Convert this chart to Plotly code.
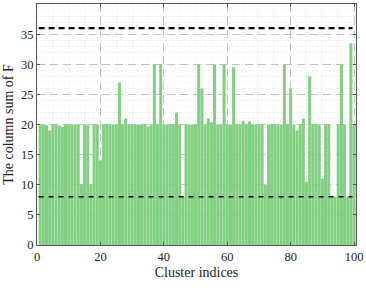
import plotly.graph_objects as go

cluster_idx = list(range(1, 101))
col_sum = [
    20, 20, 19.9, 19, 20, 20, 19.8, 19.6, 20, 20,
    20, 20, 20, 10, 20, 20, 10, 20, 20, 14,
    20, 20, 20, 20, 20, 27, 20, 21, 20, 20,
    20, 20, 20, 20, 19.7, 20, 30, 20, 30, 20,
    20, 20, 20, 22, 20, 8, 20, 20, 20, 20,
    30, 26, 20, 21, 20.4, 30, 20, 20, 30, 20,
    20, 29.5, 20, 20, 20.6, 20, 20.5, 20, 20, 20,
    20, 10, 20, 20, 20, 20, 20, 30, 20, 26,
    20, 19, 20, 21, 10.5, 28, 20, 20, 20, 11,
    20, 20, 8, 8, 20, 30, 20, 8, 33.5, 20,
]
upper_bound = 36
lower_bound = 8
line_x = [0.5, 99.5]
x_ticks = [0, 20, 40, 60, 80, 100]
y_ticks = [0, 5, 10, 15, 20, 25, 30, 35, 40]

fig = go.Figure()
fig.add_trace(go.Bar(x=cluster_idx, y=col_sum, marker=dict(color="#83cf83", line=dict(width=0)), showlegend=False))
fig.add_trace(go.Scatter(x=line_x, y=[upper_bound] * 2, mode="lines",
                         line=dict(color="black", width=2.2, dash="6px,4px"), showlegend=False))
fig.add_trace(go.Scatter(x=line_x, y=[lower_bound] * 2, mode="lines",
                         line=dict(color="black", width=1.5, dash="5px,5px"), showlegend=False))

font = "Liberation Serif, Times New Roman, serif"
axis_common = dict(
    showline=True, linecolor="#555", linewidth=1, mirror="ticks",
    ticks="inside", ticklen=3, tickcolor="#555", automargin=False,
    showgrid=True, gridcolor="#c0c0c0", griddash="8px,5px", gridwidth=1,
    zeroline=False, tickfont=dict(family=font, size=12.5, color="#222"),
)
fig.update_xaxes(range=[0, 100.6], tickvals=x_ticks, **axis_common,
                 minor=dict(dtick=5, showgrid=True, gridcolor="#e2e2e2", griddash="1px,3px", ticks=""),
                 title=dict(text="Cluster indices", font=dict(family=font, size=14, color="#222"), standoff=4))
fig.update_yaxes(range=[0, 40], tickvals=y_ticks, **axis_common,
                 minor=dict(dtick=1, showgrid=True, gridcolor="#e2e2e2", griddash="1px,3px", ticks=""),
                 title=dict(text="The column sum of F", font=dict(family=font, size=14, color="#222"), standoff=4))
fig.update_layout(
    width=366, height=288, margin=dict(l=37, r=10, t=4, b=43),
    plot_bgcolor="white", paper_bgcolor="white", bargap=0.04,
)
fig.write_html("out.html", config={"displayModeBar": False},
               post_script="document.body.style.margin='0';document.body.style.overflow='hidden';")
